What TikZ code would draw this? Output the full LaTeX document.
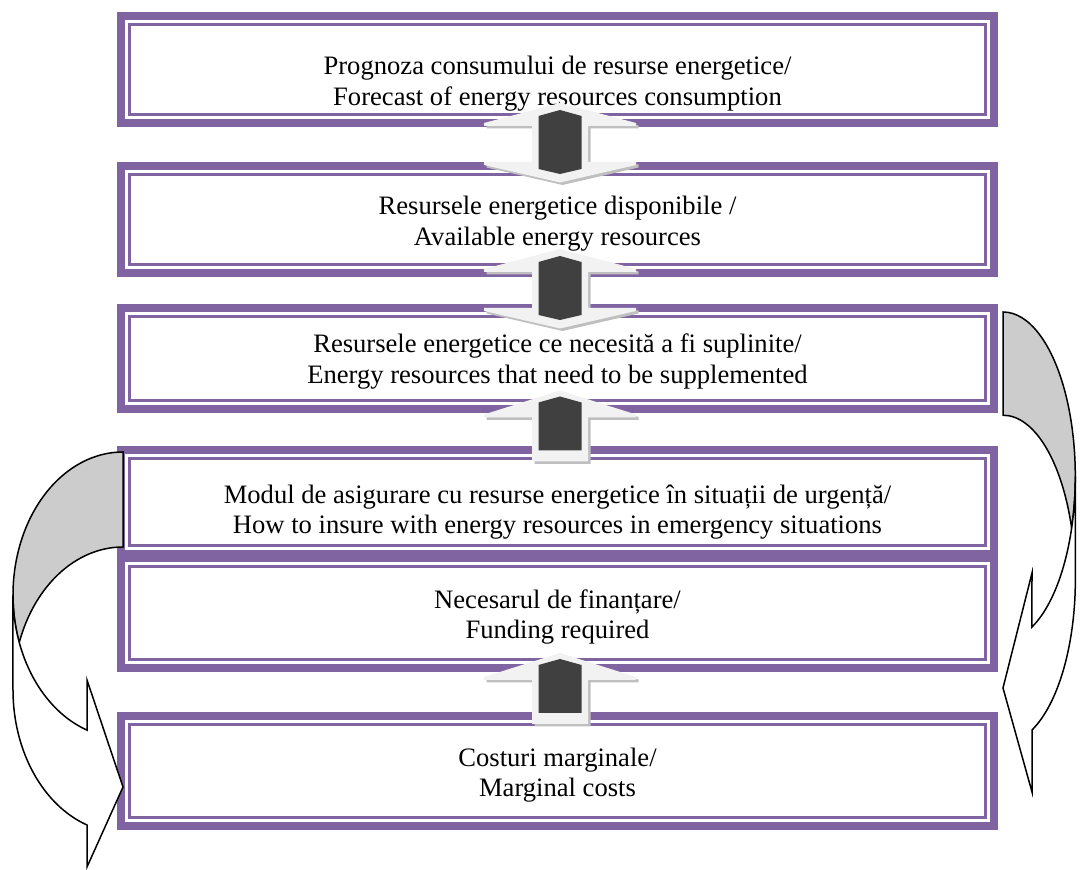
\documentclass[tikz,border=0pt]{standalone}
\usepackage{fontspec}
\setmainfont{Liberation Serif}
\usetikzlibrary{positioning,calc}

\definecolor{boxpurple}{HTML}{8064A2}
\definecolor{conlight}{HTML}{F2F2F2}
\definecolor{condark}{HTML}{404040}
\definecolor{conshadow}{HTML}{BFBFBF}
\definecolor{backgray}{HTML}{CCCCCC}

\begin{document}
\begin{tikzpicture}[x=1pt,y=1pt,
    box/.style={draw=boxpurple,line width=8.3pt,minimum width=872.7pt,
      inner sep=0pt,outer sep=0pt},
    boxtext/.style={align=center,inner sep=0pt,font=\fontsize{26.6}{30.5}\selectfont},
    innerline/.style={draw=boxpurple,line width=3pt},
    lightpart/.style={fill=conlight,
      preaction={fill=conshadow,transform canvas={xshift=2.5pt,yshift=-2.5pt}}},
    darkpart/.style={fill=condark},
    backpart/.style={draw=black,line width=1.5pt,fill=backgray},
    frontpart/.style={draw=black,line width=1.5pt,fill=white},
    updown/.pic={
      \fill[lightpart] (0,41.5) -- (76,21.5) -- (76,18.5) -- (28,18.5) -- (28,-17.5)
        -- (76,-17.5) -- (76,-20.5) -- (0,-38) -- (-76,-20.5) -- (-76,-17.5)
        -- (-28,-17.5) -- (-28,18.5) -- (-76,18.5) -- (-76,21.5) -- cycle;
      \fill[darkpart] (0,34.5) -- (21.5,28.5) -- (21.5,-24.5) -- (0,-29.5)
        -- (-21.5,-24.5) -- (-21.5,28.5) -- cycle;
    },
    uparrow/.pic={
      \fill[lightpart] (0,39) -- (76,15) -- (76,12) -- (28,12) -- (28,-32)
        -- (-28,-32) -- (-28,12) -- (-76,12) -- (-76,15) -- cycle;
      \fill[darkpart] (0,33) -- (21.5,27) -- (21.5,-21) -- (-21.5,-21)
        -- (-21.5,27) -- cycle;
    }]

\useasboundingbox (0,0) rectangle (1080,870);

% boxes
\node[box,minimum height=106.7pt] (b1) at (557.5,800.5) {};
\node[box,minimum height=106.7pt] (b2) [below=43.3pt of b1] {};
\node[box,minimum height=100.7pt] (b3) [below=35.3pt of b2] {};
\node[box,minimum height=103.7pt] (b4) [below=41.3pt of b3] {};
\node[box,minimum height=109.7pt] (b5) [below=4.3pt of b4] {};
\node[box,minimum height=109.7pt] (b6) [below=48.3pt of b5] {};

\foreach \b in {b1,b2,b3,b4,b5,b6}
  \draw[innerline] ([shift={(8,8)}]\b.south west) rectangle ([shift={(-8,-8)}]\b.north east);

% texts
\node[boxtext] (t1) at ($(b1)+(0,-14)$)
  {Prognoza consumului de resurse energetice/\\Forecast of energy resources consumption};
\node[boxtext] (t2) at ($(b2)+(0,-4)$)
  {Resursele energetice disponibile /\\Available energy resources};
\node[boxtext] (t3) at ($(b3)+(0,-3)$)
  {Resursele energetice ce necesită a fi suplinite/\\Energy resources that need to be supplemented};
\node[boxtext] (t4) at ($(b4)+(0,-10)$)
  {Modul de asigurare cu resurse energetice în situații de urgență/\\How to insure with energy resources in emergency situations};
\node[boxtext] (t5) at ($(b5)+(0,-4)$)
  {Necesarul de finanțare/\\Funding required};
\node[boxtext] (t6) at ($(b6)+(0,-4)$)
  {Costuri marginale/\\Marginal costs};

% connectors between boxes
\pic at ($(b1.south)!0.5!(b2.north)+(2.5,0)$) {updown};
\pic at ($(b2.south)!0.5!(b3.north)+(2.5,0)$) {updown};
\pic at ($(b3.south)!0.5!(b4.north)+(2.5,0)$) {uparrow};
\pic at ($(b5.south)!0.5!(b6.north)+(2.5,0)$) {uparrow};

% left curved arrow
\filldraw[backpart] (123,418) arc[start angle=90,end angle=199.4,x radius=110,y radius=143]
  arc[start angle=160.6,end angle=90,x radius=110,y radius=143] -- cycle;
\filldraw[frontpart] (13,275) arc[start angle=180,end angle=250.9,x radius=110,y radius=143]
  -- (87,190) -- (123,83) -- (87,3) -- (87,45)
  arc[start angle=250.9,end angle=180,x radius=110,y radius=143] -- cycle;

% right curved arrow
\filldraw[backpart] (1003,558) arc[start angle=90,end angle=-18.3,x radius=72.3,y radius=164.4]
  arc[start angle=18.3,end angle=90,x radius=72.3,y radius=164.4] -- cycle;
\filldraw[frontpart] (1075.3,393.6) arc[start angle=0,end angle=-66.4,x radius=72.3,y radius=164.4]
  -- (1032,297) -- (1003,182) -- (1032,78) -- (1032,140)
  arc[start angle=-66.4,end angle=0,x radius=72.3,y radius=164.4] -- cycle;

\end{tikzpicture}
\end{document}
